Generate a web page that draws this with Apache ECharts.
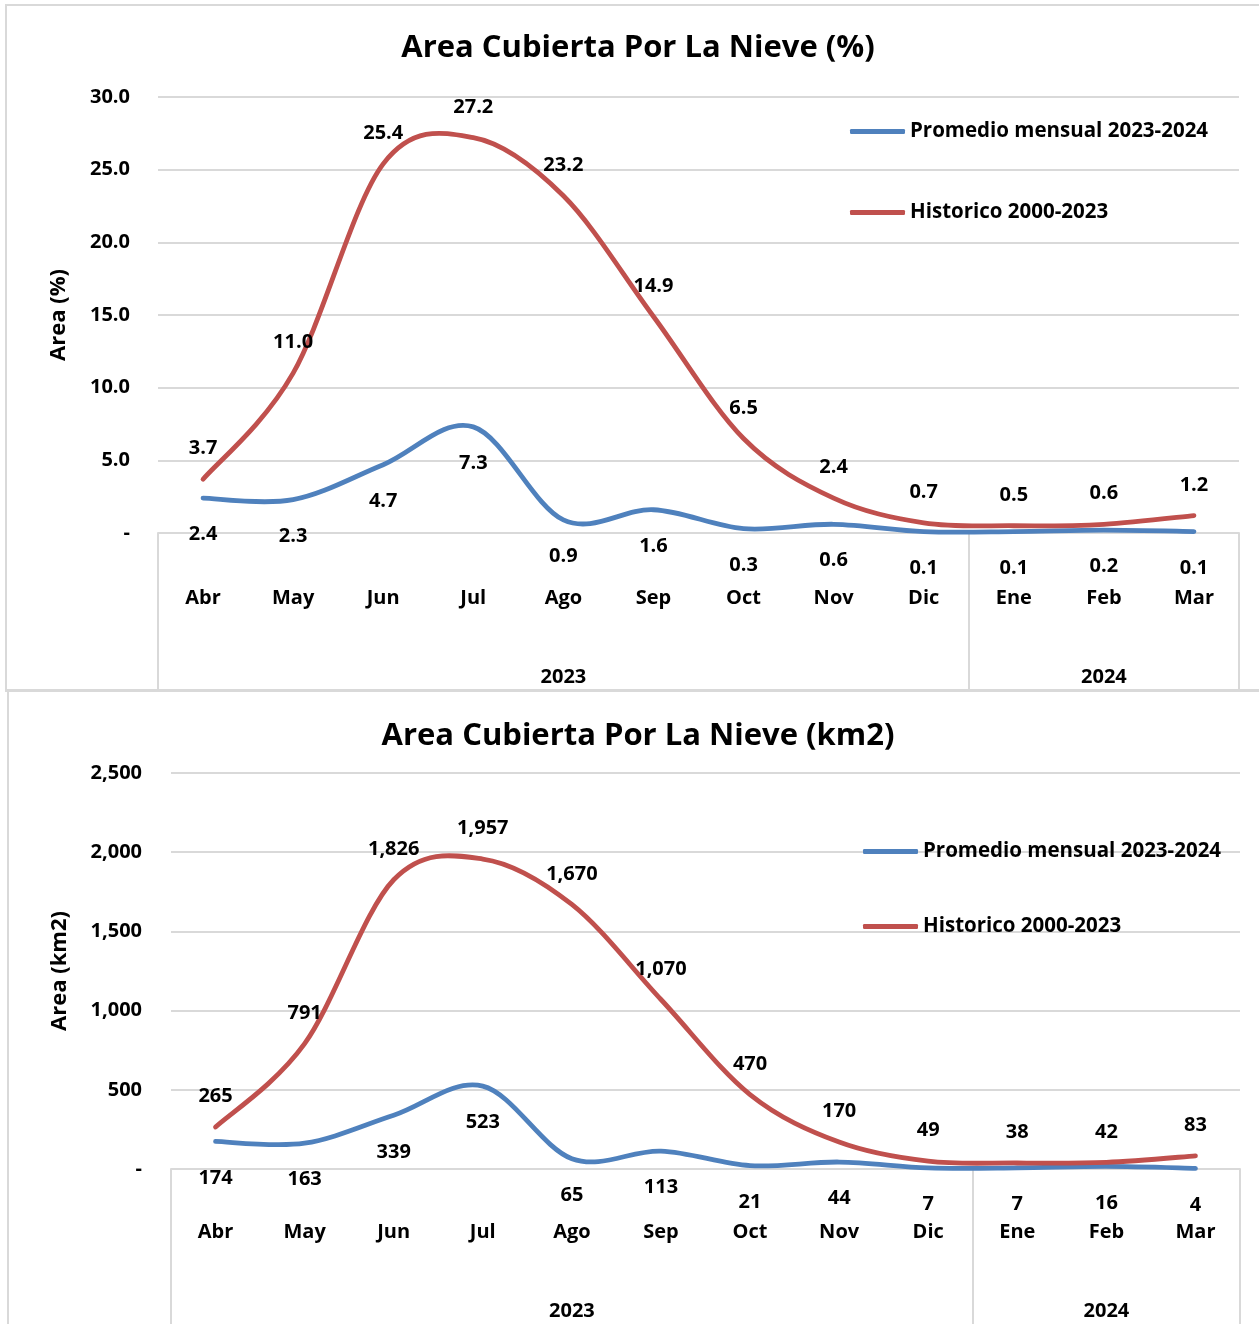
<!DOCTYPE html>
<html>
<head>
<meta charset="utf-8">
<script src="https://cdn.jsdelivr.net/npm/echarts@6/dist/echarts.min.js"></script>
<style>
  html, body { margin: 0; padding: 0; background: #ffffff; }
  body { width: 1259px; height: 1324px; position: relative; overflow: hidden; }
  .frame { position: absolute; border: 2px solid #d9d9d9; box-sizing: border-box; }
  .chart { position: absolute; left: 0; width: 1259px; }
</style>
</head>
<body>
<div class="frame" style="left:5px; top:4px; width:1270px; height:688px;"></div>
<div class="frame" style="left:7px; top:689px; width:1270px; height:660px;"></div>
<div id="c1" class="chart" style="top:0px; height:690px;"></div>
<div id="c2" class="chart" style="top:690px; height:634px;"></div>
<script>
// ---------- data ----------
const months = ['Abr', 'May', 'Jun', 'Jul', 'Ago', 'Sep', 'Oct', 'Nov', 'Dic', 'Ene', 'Feb', 'Mar'];
const yearLabels = ['', '', '', '', '2023', '', '', '', '', '', '2024', ''];
const yearStartIndex = [0, 9];   // first month of 2023 and of 2024

const seriesNames = ['Promedio mensual 2023-2024', 'Historico 2000-2023'];

const pctPromedio = [2.4, 2.3, 4.7, 7.3, 0.9, 1.6, 0.3, 0.6, 0.1, 0.1, 0.2, 0.1];
const pctHistorico = [3.7, 11.0, 25.4, 27.2, 23.2, 14.9, 6.5, 2.4, 0.7, 0.5, 0.6, 1.2];

const kmPromedio = [174, 163, 339, 523, 65, 113, 21, 44, 7, 7, 16, 4];
const kmHistorico = [265, 791, 1826, 1957, 1670, 1070, 470, 170, 49, 38, 42, 83];

const pctAxis = { min: 0, max: 30, interval: 5 };
const kmAxis = { min: 0, max: 2500, interval: 500 };

// ---------- styling ----------
const FONT = "'Open Sans', 'DejaVu Sans', sans-serif";
const BLUE = '#4F81BD';
const RED = '#C0504D';
const GRID = '#d9d9d9';
const TXT = '#000000';
const LINE_W = 4.8;

// Smooth curve (Catmull-Rom style, as spreadsheet "smoothed line") drawn through
// the points that the chart's own axes give for each value.
function smoothCurve(values, color, z) {
  return {
    type: 'custom',
    coordinateSystem: 'cartesian2d',
    silent: true,
    z: z,
    data: values.map(function (v, i) { return [i, v]; }),
    encode: { x: 0, y: 1 },
    renderItem: function (params, api) {
      if (params.dataIndex !== 0) return null;
      const pts = values.map(function (v, i) { return api.coord([i, v]); });
      const n = pts.length, t = 1 / 6;
      let d = 'M' + pts[0][0] + ' ' + pts[0][1];
      for (let i = 0; i < n - 1; i++) {
        const p0 = pts[Math.max(i - 1, 0)], p1 = pts[i], p2 = pts[i + 1], p3 = pts[Math.min(i + 2, n - 1)];
        const c1x = p1[0] + (p2[0] - p0[0]) * t, c1y = p1[1] + (p2[1] - p0[1]) * t;
        const c2x = p2[0] - (p3[0] - p1[0]) * t, c2y = p2[1] - (p3[1] - p1[1]) * t;
        d += ' C' + c1x + ' ' + c1y + ' ' + c2x + ' ' + c2y + ' ' + p2[0] + ' ' + p2[1];
      }
      return {
        type: 'path',
        shape: { pathData: d },
        style: { fill: 'none', stroke: color, lineWidth: LINE_W, lineCap: 'round', lineJoin: 'round' }
      };
    }
  };
}

function labelSeries(name, values, color, position, distance, fmt, lbl) {
  return {
    name: name,
    type: 'line',
    data: values,
    symbol: 'circle',
    symbolSize: 1,
    showSymbol: true,
    itemStyle: { color: 'rgba(0,0,0,0)' },
    lineStyle: { color: color, width: 0, opacity: 0 },
    label: Object.assign({ show: true, position: position, distance: distance,
      formatter: function (p) { return fmt(p.value); } }, lbl),
    z: 6
  };
}

function buildOption(cfg) {
  const lbl = { fontFamily: FONT, fontWeight: 'bold', fontSize: 20, color: TXT };
  return {
    animation: false,
    backgroundColor: 'transparent',
    title: {
      text: cfg.title,
      left: 638,
      textAlign: 'center',
      top: cfg.titleTop,
      padding: 0,
      textStyle: { fontFamily: FONT, fontWeight: 'bold', fontSize: 31, color: TXT }
    },
    legend: {
      orient: 'vertical',
      left: cfg.legendLeft,
      top: cfg.legendTop,
      itemGap: cfg.legendGap,
      padding: 0,
      icon: 'roundRect',
      itemWidth: 55,
      itemHeight: 5,
      data: [
        { name: seriesNames[0], itemStyle: { color: BLUE, opacity: 1 } },
        { name: seriesNames[1], itemStyle: { color: RED, opacity: 1 } }
      ],
      textStyle: { fontFamily: FONT, fontWeight: 'bold', fontSize: 20.5, color: TXT }
    },
    grid: { left: cfg.grid.left, top: cfg.grid.top, width: cfg.grid.width, height: cfg.grid.height, containLabel: false },
    xAxis: [
      {
        type: 'category',
        data: months,
        position: 'bottom',
        boundaryGap: true,
        axisLine: { show: true, lineStyle: { color: GRID, width: 2 } },
        axisTick: {
          show: true,
          interval: function (i) { return yearStartIndex.indexOf(i) >= 0; },
          length: cfg.tickLen,
          lineStyle: { color: GRID, width: 2 }
        },
        axisLabel: Object.assign({ interval: 0, margin: cfg.monthMargin }, lbl)
      },
      {
        type: 'category',
        data: yearLabels,
        position: 'bottom',
        boundaryGap: true,
        axisLine: { show: false },
        axisTick: { show: false },
        axisLabel: Object.assign({ interval: 0, margin: cfg.yearMargin }, lbl)
      }
    ],
    yAxis: {
      type: 'value',
      min: cfg.axis.min,
      max: cfg.axis.max,
      interval: cfg.axis.interval,
      name: cfg.yName,
      nameLocation: 'middle',
      nameGap: cfg.nameGap,
      nameTextStyle: { fontFamily: FONT, fontWeight: 'bold', fontSize: 22, color: TXT },
      axisLine: { show: false },
      axisTick: { show: false },
      splitLine: { show: true, lineStyle: { color: GRID, width: 2 } },
      axisLabel: Object.assign({ margin: cfg.yMargin, formatter: cfg.axisFmt }, lbl)
    },
    series: [
      smoothCurve(cfg.blue, BLUE, 3),
      smoothCurve(cfg.red, RED, 4),
      labelSeries(seriesNames[0], cfg.blue, BLUE, 'bottom', 26, cfg.valFmt, lbl),
      labelSeries(seriesNames[1], cfg.red, RED, 'top', 20, cfg.valFmt, lbl)
    ]
  };
}

const c1 = echarts.init(document.getElementById('c1'), null, { renderer: 'canvas' });
c1.setOption(buildOption({
  title: 'Area Cubierta Por La Nieve (%)',
  titleTop: 33,
  legendLeft: 850, legendTop: 121, legendGap: 60,
  grid: { left: 158, top: 97, width: 1081, height: 436 },
  tickLen: 160,
  monthMargin: 55,
  yearMargin: 134,
  axis: pctAxis,
  yName: 'Area (%)',
  nameGap: 88,
  yMargin: 28,
  axisFmt: function (v) { return v === 0 ? '-' : v.toFixed(1); },
  valFmt: function (v) { return v.toFixed(1); },
  blue: pctPromedio,
  red: pctHistorico
}));

const c2 = echarts.init(document.getElementById('c2'), null, { renderer: 'canvas' });
c2.setOption(buildOption({
  title: 'Area Cubierta Por La Nieve (km2)',
  titleTop: 31,
  legendLeft: 863, legendTop: 151, legendGap: 54,
  grid: { left: 171, top: 83, width: 1069, height: 396 },
  tickLen: 160,
  monthMargin: 53,
  yearMargin: 132,
  axis: kmAxis,
  yName: 'Area (km2)',
  nameGap: 100,
  yMargin: 29,
  axisFmt: function (v) { return v === 0 ? '-' : v.toLocaleString('en-US'); },
  valFmt: function (v) { return v.toLocaleString('en-US'); },
  blue: kmPromedio,
  red: kmHistorico
}));
</script>
</body>
</html>
